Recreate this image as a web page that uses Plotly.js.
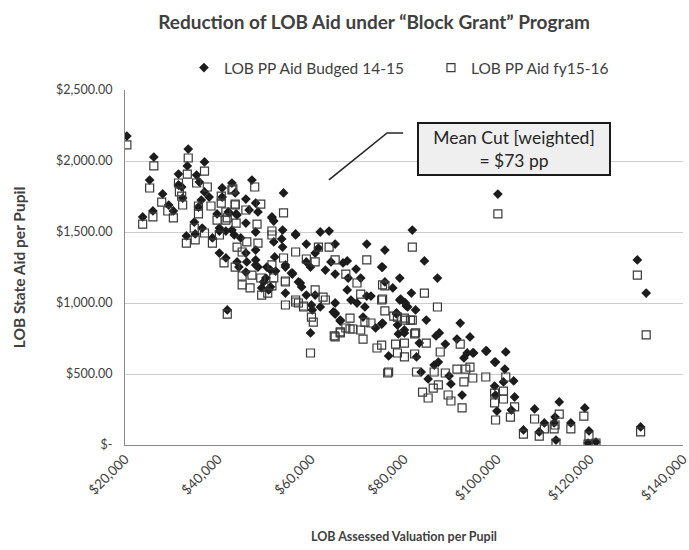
<!DOCTYPE html>
<html>
<head>
<meta charset="utf-8">
<script src="https://cdn.plot.ly/plotly-3.0.1.min.js"></script>
<style>
html,body{margin:0;padding:0;background:#fff;}
#chart{width:689px;height:550px;}
</style>
</head>
<body>
<div id="chart"></div>
<script>
// Series 1: LOB PP Aid Budged 14-15 (valuation per pupil, aid per pupil)
var budX = [20400,26200,33600,33400,37100,31500,35400,25300,31500,32200,36000,28100,29400,30400,26000,23800,32400,37100,36400,38100,35800,34900,36600,35100,33200,39800,40900,40900,43000,43700,42200,43900,46000,40300,43000,44900,38800,54100,56700,51600,47300,81800,84400,62000,63900,59000,65200,72000,75900,75200,100200,130200,132100,94200,93600,94800,97800,101900,99700,101700,103600,101400,99500,99700,103800,103100,100000,108100,113400,112500,112300,110200,105700,109100,115900,118900,119800,112700,119600,121300,130900,80500,79100,82500,78400,84800,92100,75200,80100,78800,87600,86900,83300,91400,88900,97600,76700,82700,92900,95000,99500,87400,86500,83700,89700,85200,90100,92500,54500,56000,57700,54500,59900,65200,66300,71200,69900,70700,69700,75400,75900,79100,77600,79300,78400,75400,73900,81600,87200,80300,67800,66900,65200,68000,72000,72900,68600,67800,71600,80800,66300,65200,78600,80100,48100,42400,44100,46700,48600,51600,52000,46000,40300,41700,43500,48100,53900,56700,52000,53900,53700,46000,48100,40300,41700,61600,60900,44100,46200,48100,48600,50500,54500,52200,56000,59000,59900,51300,52400,63100,64300,49800,49400,50900,57300,58000,59000,60900,60100,62000,60300,64800,65200,42000,44500,46000,48100,50300,51300,55800];
var budY = [2176,2028,2084,1965,1993,1908,1901,1866,1831,1817,1852,1768,1690,1648,1648,1606,1739,1782,1725,1746,1676,1570,1528,1486,1472,1627,1810,1746,1845,1775,1641,1627,1732,1528,1514,1458,1458,1775,1479,1606,1866,1514,1296,1500,1507,1415,1415,1415,1373,1253,1767,1303,1070,761,648,648,662,655,584,535,451,444,415,352,338,246,239,254,303,197,155,155,106,92,155,261,99,35,14,21,127,979,1021,951,923,880,859,852,810,782,789,768,718,746,711,662,627,620,613,648,584,584,563,514,486,465,430,352,1253,1204,1141,1070,789,930,873,901,1000,1176,1239,1253,1148,1176,1106,1028,930,859,824,1070,1176,1000,1296,1282,1204,1176,1049,1049,1021,1092,972,972,880,922,845,789,1704,1634,1620,1655,1641,1599,1577,1563,1507,1507,1479,1500,1514,1486,1430,1394,1451,1352,1373,1352,1317,1387,1352,1289,1289,1303,1253,1253,1268,1324,1211,1289,1253,1232,1225,1232,1289,1148,1106,1092,1148,1113,1056,1056,986,972,951,937,1000,951,1253,1218,1268,1176,1113,1211];

// Series 2: LOB PP Aid fy15-16
var fyX = [20400,26200,33600,33400,37100,31500,35400,25300,31700,32200,37700,27900,29200,30400,26000,23800,32400,35800,38500,35800,34900,37100,35100,33200,39800,40700,40700,43000,43700,42000,43900,46000,40300,38800,54100,47900,43200,81800,63900,72000,56700,61600,100200,130200,132100,94200,94800,97600,101900,99500,99500,101400,101400,103800,102900,99700,108100,113400,112500,112300,110200,105700,109100,115900,118700,119800,112700,119600,121300,130900,87200,75900,77800,80300,81400,82500,84800,92100,75200,78200,80100,87800,78600,80100,82300,76700,82700,86500,88900,91400,93300,92900,87400,86300,84000,85200,89500,90100,92500,54500,54500,56700,58400,59900,65200,66300,67500,69000,70700,71200,71600,75900,75400,78600,74200,76500,84400,75400,65200,67500,69900,75200,70700,68400,72900,80100,81800,68400,66300,65000,82300,43700,49200,41700,41700,48400,51600,51600,46200,48600,44100,45200,41300,43700,51600,54100,59000,60900,45200,47300,49200,45200,46900,52000,51600,49400,50700,54500,56700,57300,60900,58400,62600,63100,60100,60500,42000];
var fyY = [2113,1965,2021,1908,1929,1845,1845,1810,1782,1753,1817,1711,1648,1599,1606,1556,1690,1683,1683,1627,1528,1493,1444,1422,1584,1753,1704,1796,1690,1599,1563,1655,1479,1422,1634,1817,1803,1394,1394,1303,1359,1394,1627,1197,775,549,472,479,479,366,296,380,324,268,197,176,183,218,141,113,113,77,63,113,204,63,14,7,14,92,972,944,908,880,880,789,718,711,704,711,718,655,648,620,641,514,514,514,507,535,535,444,423,401,373,331,352,310,261,1155,986,1007,979,648,761,796,824,817,810,746,866,1120,1028,901,683,507,1070,1127,1303,1204,1141,1021,1063,894,859,894,880,817,789,768,782,1697,1697,1641,1584,1556,1507,1479,1430,1422,1394,1359,1282,1253,1268,1317,1310,1289,1190,1197,1176,1127,1106,1176,1120,1056,1070,1148,1021,1000,1092,972,1042,1021,901,866,922];

var yTickVals = [0,500,1000,1500,2000,2500];
var yTickText = ["$-","$500.00","$1,000.00","$1,500.00","$2,000.00","$2,500.00"];
var xTickVals = [20000,40000,60000,80000,100000,120000,140000];
var xTickText = ["$20,000","$40,000","$60,000","$80,000","$100,000","$120,000","$140,000"];

var FONT = "Lato, 'Open Sans', sans-serif";

var traces = [
  {
    type: 'scatter', mode: 'markers', name: 'LOB PP Aid Budged 14-15',
    x: budX, y: budY,
    marker: {symbol: 'diamond', size: 7.5, color: '#1c1c1c', line: {width: 0}}
  },
  {
    type: 'scatter', mode: 'markers', name: 'LOB PP Aid fy15-16',
    x: fyX, y: fyY,
    marker: {symbol: 'square-open', size: 8, color: '#3a3a3a', line: {width: 1.2, color: '#3a3a3a'}}
  }
];

var layout = {
  width: 689, height: 550,
  margin: {l: 125, r: 6, t: 90, b: 105},
  paper_bgcolor: '#ffffff', plot_bgcolor: '#ffffff',
  font: {family: FONT, color: '#404040', size: 13},
  showlegend: true,
  title: {
    text: '<b>Reduction of LOB Aid under “Block Grant” Program</b>',
    font: {family: FONT, size: 19, color: '#404040'},
    x: 0.543, xref: 'container', xanchor: 'center',
    y: 0.96, yref: 'container', yanchor: 'middle'
  },
  legend: {
    orientation: 'h', xref: 'container', x: 0.267, xanchor: 'left',
    yref: 'container', y: 1 - 68/550, yanchor: 'middle',
    font: {family: FONT, size: 15.5, color: '#404040'},
    entrywidth: 202, entrywidthmode: 'pixels', bgcolor: 'rgba(0,0,0,0)'
  },
  xaxis: {
    range: [20000, 140020], tickvals: xTickVals, ticktext: xTickText,
    tickangle: -45, showgrid: false, zeroline: false,
    showline: true, linecolor: '#898989', linewidth: 1, ticks: '',
    ticklabeloverflow: 'allow',
    tickfont: {family: FONT, size: 13.5, color: '#404040'},
    title: {text: '<b>LOB Assessed Valuation per Pupil</b>', font: {family: FONT, size: 12.5, color: '#404040'}, standoff: 29},
    automargin: false
  },
  yaxis: {
    range: [0, 2500], tickvals: yTickVals, ticktext: yTickText,
    showgrid: true, gridcolor: '#cdcdcd', gridwidth: 1, zeroline: false,
    showline: true, linecolor: '#898989', linewidth: 1, ticks: '',
    ticklabelstandoff: 9,
    tickfont: {family: FONT, size: 12.5, color: '#404040'},
    title: {text: '<b>LOB State Aid per Pupil</b>', font: {family: FONT, size: 15.5, color: '#404040'}, standoff: 26},
    automargin: false
  },
  shapes: [
    {type: 'path', xref: 'paper', yref: 'paper',
     path: 'M 0.3655 0.7465 L 0.4697 0.8789 L 0.4984 0.8789',
     line: {color: '#262626', width: 1.6}}
  ],
  annotations: [
    {xref: 'paper', yref: 'paper', x: 0.697, y: 0.834, xanchor: 'center', yanchor: 'middle',
     text: 'Mean Cut [weighted]<br>= $73 pp', showarrow: false,
     font: {family: FONT, size: 17.5, color: '#262626'},
     bgcolor: '#eeefee', bordercolor: '#1a1a1a', borderwidth: 2, borderpad: 2,
     width: 186, height: 46, align: 'center'}
  ]
};

Plotly.newPlot('chart', traces, layout, {displayModeBar: false, staticPlot: true});
</script>
</body>
</html>
